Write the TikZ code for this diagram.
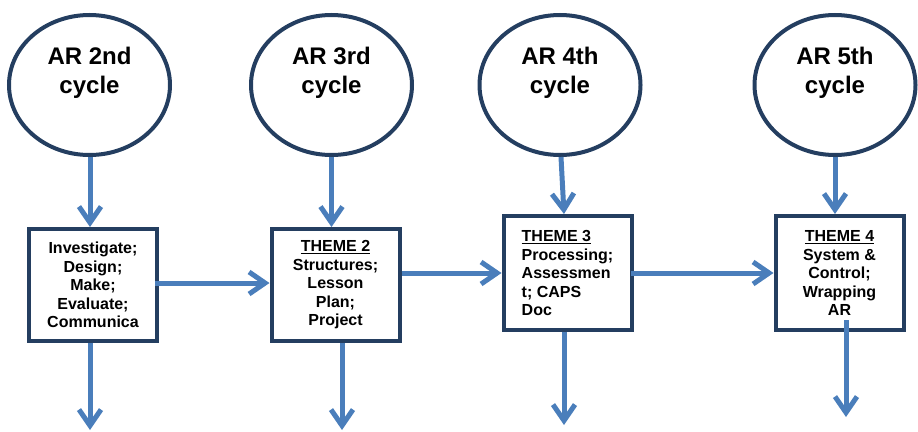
\documentclass[tikz,border=0pt]{standalone}
\usepackage{fontspec}
\setmainfont{Liberation Sans}
\usetikzlibrary{shapes}
\usetikzlibrary{arrows.meta}
\definecolor{flowblue}{RGB}{74,126,187}
\definecolor{boxnavy}{RGB}{36,62,96}

\begin{document}
\begin{tikzpicture}[x=1pt,y=-1pt]
	\tikzstyle{arcycle}=[ellipse,draw=boxnavy,line width=4pt,minimum width=161pt,minimum height=140pt,inner sep=0pt]
	\tikzstyle{cycletext}=[font=\fontsize{24}{29}\selectfont\bfseries,align=center,inner sep=0pt]
	\tikzstyle{theme}=[rectangle,draw=boxnavy,fill=white,line width=4pt,minimum width=128pt,minimum height=112pt,inner sep=0pt,font=\fontsize{16}{18.5}\selectfont\bfseries,align=center]
	\tikzstyle{flow}=[draw=flowblue,line width=5pt,-{Straight Barb[length=16pt,width=22pt]}]

	\useasboundingbox (0,0) rectangle (918,431);

	% cycles
	\node[arcycle] (c2) at (89.5,85) {};
	\node[arcycle] (c3) at (331.5,85) {};
	\node[arcycle] (c4) at (560,85) {};
	\node[arcycle] (c5) at (835,85) {};
	\node[cycletext] (c2text) at ([yshift=12pt]c2.center) {AR 2nd\\cycle};
	\node[cycletext] (c3text) at ([yshift=12pt]c3.center) {AR 3rd\\cycle};
	\node[cycletext] (c4text) at ([yshift=12pt]c4.center) {AR 4th\\cycle};
	\node[cycletext] (c5text) at ([yshift=12pt]c5.center) {AR 5th\\cycle};

	% themes
	\node[theme] (t1) at (93,285) {Investigate;\\Design;\\Make;\\Evaluate;\\Communica};
	\node[theme] (t2) at (335.5,285) {\underline{THEME 2}\\Structures;\\Lesson\\Plan;\\Project};
	\node[theme,minimum height=114pt,align=left] (t3) at (567.5,273) {\underline{THEME 3}\\Processing;\\Assessmen\\t; CAPS\\Doc};
	\node[theme,minimum height=114pt] (t4) at (839.5,273) {\underline{THEME 4}\\System \&\\Control;\\Wrapping\\AR};

	% free ends
	\coordinate (e1) at (90,430);
	\coordinate (e2) at (342,430);
	\coordinate (e3) at (564,425);
	\coordinate (e4) at (846,417);

	% arrows
	\draw[flow] (c2.south -| 90,0) -- (90,227);
	\draw[flow] (c3.south) -- (c3.south |- t2.north);
	\draw[flow] ([xshift=1pt]c4.south) -- ([xshift=-3.5pt]t3.north);
	\draw[flow] (c5.south) -- (c5.south |- t4.north);

	\draw[flow] ([xshift=-4pt,yshift=2pt]t1.east) -- ([yshift=2pt]t2.west);
	\draw[flow] (t2.east |- t3.west) -- (t3.west);
	\draw[flow] ([xshift=-3pt]t3.east) -- (t4.west);

	\draw[flow] (t1.south -| e1) -- (e1);
	\draw[flow] (t2.south -| e2) -- (e2);
	\draw[flow] (t3.south -| e3) -- (e3);
	\draw[flow] ([yshift=12pt]t4.south -| e4) -- (e4);
\end{tikzpicture}
\end{document}
